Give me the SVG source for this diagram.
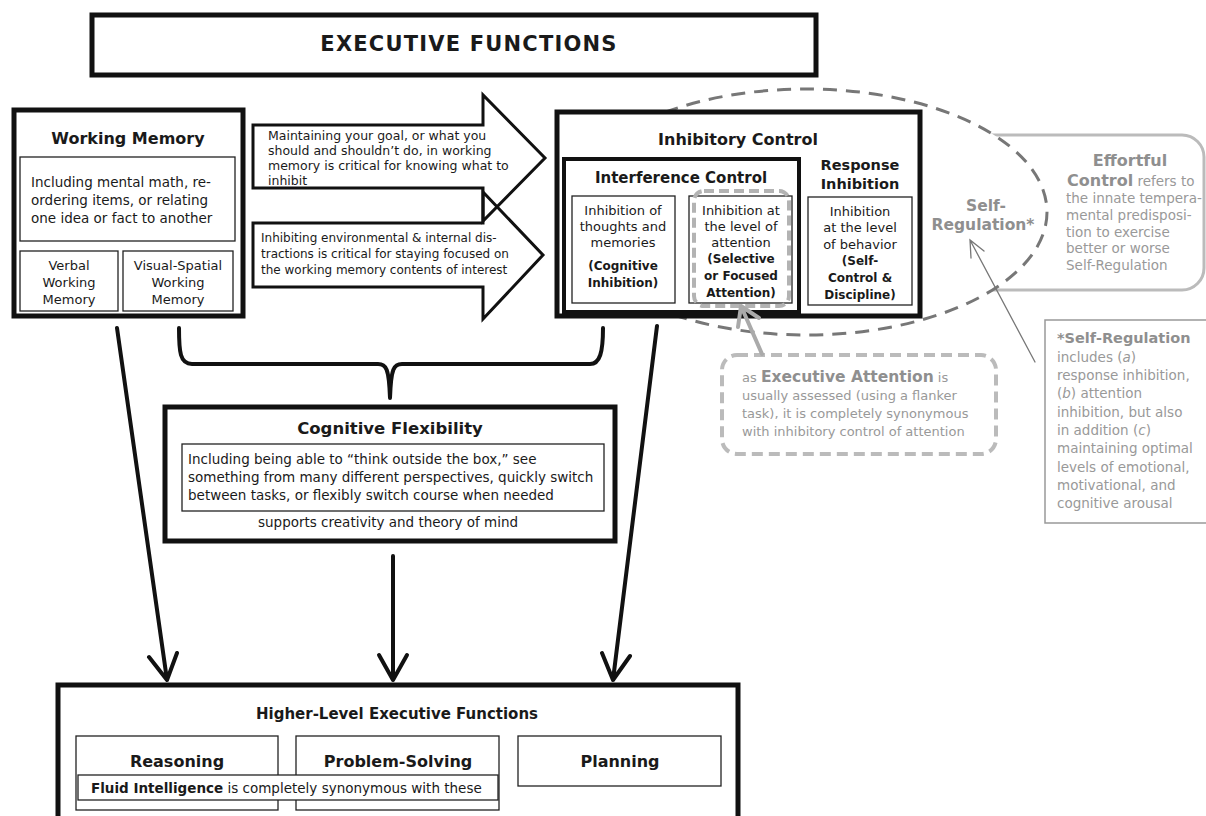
<svg xmlns="http://www.w3.org/2000/svg" width="1206" height="816" viewBox="0 0 1206 816">
<style>
.t{font-family:"DejaVu Sans",Verdana,sans-serif;fill:#1a1a1a}
.b{font-weight:bold}
.m{text-anchor:middle}
.s12{font-size:12px}
.s125{font-size:12.5px}
.s13{font-size:13px}
.s135{font-size:13.5px}
.thick{fill:#fff;stroke:#111;stroke-width:5}
.mid{fill:#fff;stroke:#111;stroke-width:4}
.thin{fill:#fff;stroke:#222;stroke-width:1.3}
.g{fill:#999}
.gb{fill:#8f8f8f}
.conn{fill:none;stroke:#111;stroke-width:4;stroke-linecap:round;stroke-linejoin:round}
</style>

<g id="title">
<rect x="92" y="15" width="724" height="60" class="thick"/>
<text x="469" y="51" class="t b m" font-size="21" letter-spacing="1.2">EXECUTIVE FUNCTIONS</text>
</g>

<g id="effortful-control">
<rect x="960" y="135" width="244" height="155" rx="22" fill="#fff" stroke="#bbb" stroke-width="3"/>
</g>

<g id="self-regulation">
<ellipse cx="806" cy="212" rx="241" ry="123" fill="#fff" stroke="#777" stroke-width="3" stroke-dasharray="14 9"/>
<text x="986" y="211" class="t b m gb" font-size="15.5">Self-</text>
<text x="983" y="230" class="t b m gb" font-size="15.5">Regulation*</text>
</g>

<g id="effortful-text">
<text x="1130" y="166" class="t b m gb" font-size="16">Effortful</text>
<text x="1067" y="186" class="t s135 g"><tspan font-weight="bold" font-size="16" class="gb">Control</tspan> refers to</text>
<text x="1066" y="203" class="t s135 g">the innate tempera-</text>
<text x="1066" y="220" class="t s135 g">mental predisposi-</text>
<text x="1066" y="237" class="t s135 g">tion to exercise</text>
<text x="1066" y="253" class="t s135 g">better or worse</text>
<text x="1066" y="270" class="t s135 g">Self-Regulation</text>
</g>

<g id="working-memory">
<rect x="14" y="110" width="229" height="206" class="thick"/>
<text x="128" y="144" class="t b m" font-size="16">Working Memory</text>
<rect x="20" y="157" width="215" height="84" class="thin"/>
<text x="31" y="187" class="t s135">Including mental math, re-</text>
<text x="31" y="205" class="t s135">ordering items, or relating</text>
<text x="31" y="223" class="t s135">one idea or fact to another</text>
<rect x="20" y="251" width="98" height="60" class="thin"/>
<text x="69" y="270" class="t s13 m">Verbal</text>
<text x="69" y="287" class="t s13 m">Working</text>
<text x="69" y="304" class="t s13 m">Memory</text>
<rect x="123" y="251" width="110" height="60" class="thin"/>
<text x="178" y="270" class="t s13 m">Visual-Spatial</text>
<text x="178" y="287" class="t s13 m">Working</text>
<text x="178" y="304" class="t s13 m">Memory</text>
</g>

<g id="arrow-goal">
<polygon points="253,125 483,125 483,95 545,158 483,221 483,188 253,188" fill="none" stroke="#111" stroke-width="3"/>
<text x="268" y="140" class="t s125">Maintaining your goal, or what you</text>
<text x="268" y="155" class="t s125">should and shouldn’t do, in working</text>
<text x="268" y="170" class="t s125">memory is critical for knowing what to</text>
<text x="268" y="185" class="t s125">inhibit</text>
</g>

<g id="arrow-distractions">
<polygon points="253,223 483,223 483,192 543,255 483,319 483,287 253,287" fill="none" stroke="#111" stroke-width="3"/>
<text x="261" y="242" class="t s12">Inhibiting environmental &amp; internal dis-</text>
<text x="261" y="258" class="t s12">tractions is critical for staying focused on</text>
<text x="261" y="274" class="t s12">the working memory contents of interest</text>
</g>

<g id="inhibitory-control">
<rect x="557" y="112" width="363" height="204" class="thick"/>
<text x="738" y="145" class="t b m" font-size="16">Inhibitory Control</text>
<text x="860" y="170" class="t b m" font-size="14.5">Response</text>
<text x="860" y="189" class="t b m" font-size="14.5">Inhibition</text>
<rect x="808" y="197" width="104" height="108" class="thin"/>
<text x="860" y="216" class="t s13 m">Inhibition</text>
<text x="860" y="232" class="t s13 m">at the level</text>
<text x="860" y="249" class="t s13 m">of behavior</text>
<text x="860" y="265" class="t s12 m b">(Self-</text>
<text x="860" y="282" class="t s12 m b">Control &amp;</text>
<text x="860" y="299" class="t s12 m b">Discipline)</text>
</g>

<g id="interference-control">
<rect x="564" y="159" width="235" height="153" class="mid"/>
<text x="681" y="183" class="t b m" font-size="15">Interference Control</text>
<rect x="572" y="196" width="103" height="107" class="thin"/>
<text x="623" y="215" class="t s13 m">Inhibition of</text>
<text x="623" y="231" class="t s13 m">thoughts and</text>
<text x="623" y="247" class="t s13 m">memories</text>
<text x="623" y="270" class="t s12 m b">(Cognitive</text>
<text x="623" y="287" class="t s12 m b">Inhibition)</text>
<rect x="689" y="196" width="103" height="107" class="thin"/>
<rect x="694" y="191" width="95" height="115" rx="10" fill="none" stroke="#b3b3b3" stroke-width="4" stroke-dasharray="10 5"/>
<text x="741" y="215" class="t s13 m">Inhibition at</text>
<text x="741" y="231" class="t s13 m">the level of</text>
<text x="741" y="247" class="t s13 m">attention</text>
<text x="741" y="263" class="t s12 m b">(Selective</text>
<text x="741" y="280" class="t s12 m b">or Focused</text>
<text x="741" y="297" class="t s12 m b">Attention)</text>
</g>

<g id="executive-attention">
<rect x="722" y="355" width="274" height="99" rx="15" fill="#fff" stroke="#bbb" stroke-width="4" stroke-dasharray="11 6"/>
<text x="742" y="382" class="t s13 g">as <tspan font-weight="bold" font-size="15.5" class="gb">Executive Attention</tspan> is</text>
<text x="742" y="400" class="t s13 g">usually assessed (using a flanker</text>
<text x="742" y="418" class="t s13 g">task), it is completely synonymous</text>
<text x="742" y="436" class="t s13 g">with inhibitory control of attention</text>
</g>

<g id="self-regulation-note">
<rect x="1045" y="320" width="200" height="203" fill="#fff" stroke="#999" stroke-width="1.5"/>
<text x="1057" y="343" class="t b gb" font-size="14.5">*Self-Regulation</text>
<text x="1057" y="362" class="t s135 g">includes (<tspan font-style="italic">a</tspan>)</text>
<text x="1057" y="380" class="t s135 g">response inhibition,</text>
<text x="1057" y="398" class="t s135 g">(<tspan font-style="italic">b</tspan>) attention</text>
<text x="1057" y="417" class="t s135 g">inhibition, but also</text>
<text x="1057" y="435" class="t s135 g">in addition (<tspan font-style="italic">c</tspan>)</text>
<text x="1057" y="453" class="t s135 g">maintaining optimal</text>
<text x="1057" y="472" class="t s135 g">levels of emotional,</text>
<text x="1057" y="490" class="t s135 g">motivational, and</text>
<text x="1057" y="508" class="t s135 g">cognitive arousal</text>
</g>

<g id="cognitive-flexibility">
<rect x="165" y="407" width="450" height="134" class="thick"/>
<text x="390" y="434" class="t b m" font-size="16.5">Cognitive Flexibility</text>
<rect x="182" y="444" width="422" height="67" class="thin"/>
<text x="188" y="464" class="t s135">Including being able to “think outside the box,” see</text>
<text x="188" y="482" class="t s135">something from many different perspectives, quickly switch</text>
<text x="188" y="500" class="t s135">between tasks, or flexibly switch course when needed</text>
<text x="388" y="527" class="t s135 m">supports creativity and theory of mind</text>
</g>

<g id="higher-level">
<rect x="58" y="685" width="680" height="140" class="thick"/>
<text x="397" y="719" class="t b m" font-size="15">Higher-Level Executive Functions</text>
<rect x="76" y="736" width="202" height="74" class="thin"/>
<text x="177" y="767" class="t b m" font-size="16">Reasoning</text>
<rect x="296" y="736" width="203" height="74" class="thin"/>
<text x="398" y="767" class="t b m" font-size="16">Problem-Solving</text>
<rect x="518" y="736" width="203" height="50" class="thin"/>
<text x="620" y="767" class="t b m" font-size="16">Planning</text>
<rect x="78" y="775" width="420" height="25" class="thin"/>
<text x="91" y="793" class="t" font-size="13.5"><tspan font-weight="bold">Fluid Intelligence</tspan> is completely synonymous with these</text>
</g>

<g id="connectors">
<path class="conn" d="M179,328 C179,352 180,364 192,364 L378,364 C386,364 389,368 390,398 C391,368 394,364 402,364 L590,364 C600,364 603,352 603,328"/>
<path class="conn" d="M117,328 L167,680 M149,657 L167,680 L177,653"/>
<path class="conn" d="M393,556 L393,680 M379,655 L393,680 L407,655"/>
<path class="conn" d="M657,326 L613,680 M602,653 L613,680 L630,656"/>
<path d="M762,354 L741,306 M738,327 L741,306 L759,318" fill="none" stroke="#aaa" stroke-width="4" stroke-linecap="round" stroke-linejoin="round"/>
<path d="M1035,362 L970,240 M971,258 L970,240 L984,251" fill="none" stroke="#777" stroke-width="1.3" stroke-linecap="round"/>
</g>
</svg>
